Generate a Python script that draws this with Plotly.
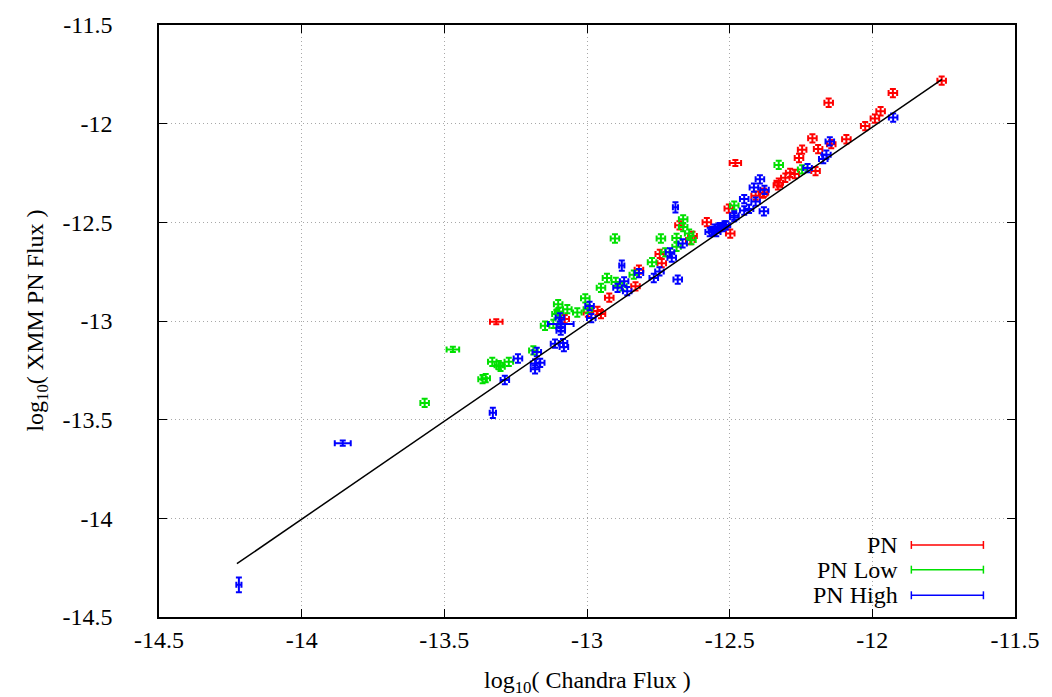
import plotly.graph_objects as go

# ---------------- data ----------------
pn_x = [-11.757, -11.928, -12.153, -11.971, -11.991, -12.025, -12.210, -12.091, -12.246, -12.190,
        -12.144, -12.257, -12.199, -12.288, -12.305, -12.328, -12.331, -12.272, -12.409, -12.380,
        -12.480, -12.383, -12.503, -12.580, -12.498, -12.676, -12.638, -12.630, -12.738, -12.745,
        -12.818, -12.830, -12.922, -12.997, -12.963, -12.951, -13.078, -13.318]
pn_y = [-11.782, -11.845, -11.894, -11.937, -11.974, -12.012, -12.074, -12.079, -12.132, -12.129,
        -12.104, -12.174, -12.240, -12.249, -12.274, -12.299, -12.312, -12.255, -12.365, -12.349,
        -12.199, -12.354, -12.430, -12.499, -12.557, -12.515, -12.590, -12.569, -12.707, -12.660,
        -12.740, -12.824, -12.882, -12.957, -12.949, -12.965, -12.990, -13.004]
pn_xerr = [0.015, 0.015, 0.015, 0.015, 0.015, 0.015, 0.015, 0.015, 0.015, 0.015,
           0.015, 0.015, 0.015, 0.015, 0.015, 0.015, 0.015, 0.015, 0.015, 0.015,
           0.020, 0.015, 0.015, 0.015, 0.015, 0.015, 0.015, 0.015, 0.015, 0.015,
           0.015, 0.015, 0.015, 0.015, 0.015, 0.015, 0.015, 0.022]
pn_yerr = [0.021, 0.021, 0.021, 0.021, 0.021, 0.021, 0.021, 0.021, 0.021, 0.021,
           0.021, 0.021, 0.021, 0.021, 0.021, 0.021, 0.021, 0.021, 0.021, 0.021,
           0.015, 0.021, 0.021, 0.021, 0.021, 0.021, 0.021, 0.021, 0.021, 0.021,
           0.021, 0.021, 0.021, 0.021, 0.021, 0.021, 0.021, 0.013]

low_x = [-12.328, -12.246, -12.484, -12.663, -12.902, -12.741, -12.686, -12.642, -12.634, -12.686,
         -12.726, -12.772, -12.836, -12.930, -12.899, -12.951, -13.006, -13.034, -13.069, -13.101,
         -13.098, -13.107, -13.147, -13.118, -13.188, -13.274, -13.309, -13.332, -13.303, -13.355,
         -13.366, -13.470, -13.569, -12.663, -12.876, -12.997]
low_y = [-12.209, -12.232, -12.415, -12.485, -12.582, -12.582, -12.579, -12.557, -12.590, -12.624,
         -12.652, -12.702, -12.765, -12.782, -12.802, -12.832, -12.885, -12.957, -12.940, -12.915,
         -12.952, -12.965, -13.024, -13.015, -13.149, -13.207, -13.224, -13.207, -13.232, -13.290,
         -13.295, -13.144, -13.415, -12.524, -12.824, -12.940]
low_xerr = [0.015, 0.015, 0.015, 0.015, 0.015, 0.015, 0.015, 0.015, 0.015, 0.015,
            0.015, 0.015, 0.015, 0.015, 0.015, 0.015, 0.015, 0.015, 0.015, 0.015,
            0.015, 0.015, 0.015, 0.015, 0.015, 0.015, 0.015, 0.015, 0.015, 0.015,
            0.015, 0.022, 0.015, 0.015, 0.015, 0.015]
low_yerr = [0.021, 0.021, 0.021, 0.021, 0.021, 0.021, 0.021, 0.021, 0.021, 0.021,
            0.021, 0.021, 0.021, 0.021, 0.021, 0.021, 0.021, 0.021, 0.021, 0.021,
            0.021, 0.021, 0.021, 0.021, 0.021, 0.021, 0.021, 0.021, 0.021, 0.021,
            0.021, 0.013, 0.021, 0.021, 0.021, 0.021]

high_x = [-11.927, -12.149, -12.161, -12.172, -12.227, -12.394, -12.415, -12.378, -12.409, -12.432,
          -12.449, -12.380, -12.449, -12.484, -12.690, -12.570, -12.559, -12.553, -12.542, -12.536,
          -12.524, -12.518, -12.513, -12.547, -12.484, -12.665, -12.709, -12.703, -12.878, -12.818,
          -12.746, -12.766, -12.682, -12.870, -12.893, -12.859, -12.991, -12.985, -13.095, -13.092,
          -13.092, -13.092, -13.112, -13.084, -13.081, -13.176, -13.242, -13.182, -13.182, -13.164,
          -13.288, -13.330, -13.856, -14.220]
high_y = [-11.969, -12.090, -12.157, -12.179, -12.225, -12.282, -12.324, -12.335, -12.395, -12.432,
          -12.440, -12.444, -12.382, -12.474, -12.424, -12.549, -12.545, -12.532, -12.532, -12.524,
          -12.524, -12.515, -12.515, -12.549, -12.465, -12.607, -12.652, -12.679, -12.719, -12.757,
          -12.749, -12.782, -12.790, -12.799, -12.832, -12.849, -12.924, -12.985, -12.982, -13.015,
          -13.032, -13.049, -13.115, -13.112, -13.132, -13.157, -13.190, -13.215, -13.245, -13.212,
          -13.299, -13.465, -13.619, -14.337]
high_xerr = [0.015, 0.015, 0.015, 0.015, 0.015, 0.015, 0.015, 0.015, 0.015, 0.015,
             0.015, 0.015, 0.015, 0.015, 0.009, 0.015, 0.015, 0.015, 0.015, 0.015,
             0.015, 0.015, 0.015, 0.015, 0.015, 0.015, 0.015, 0.015, 0.009, 0.015,
             0.015, 0.015, 0.015, 0.015, 0.015, 0.015, 0.015, 0.015, 0.015, 0.045,
             0.015, 0.015, 0.015, 0.015, 0.015, 0.015, 0.015, 0.015, 0.015, 0.015,
             0.015, 0.011, 0.028, 0.009]
high_yerr = [0.021, 0.021, 0.021, 0.021, 0.021, 0.021, 0.021, 0.021, 0.021, 0.021,
             0.021, 0.021, 0.021, 0.021, 0.026, 0.021, 0.021, 0.021, 0.021, 0.021,
             0.021, 0.021, 0.021, 0.021, 0.021, 0.021, 0.021, 0.021, 0.026, 0.021,
             0.021, 0.021, 0.021, 0.021, 0.021, 0.021, 0.021, 0.021, 0.021, 0.021,
             0.021, 0.021, 0.021, 0.021, 0.021, 0.021, 0.021, 0.021, 0.021, 0.021,
             0.021, 0.026, 0.013, 0.037]

line_x = [-14.227, -11.756]
line_y = [-14.230, -11.775]

tick_vals = [-14.5, -14.0, -13.5, -13.0, -12.5, -12.0, -11.5]
tick_text = ["-14.5", "-14", "-13.5", "-13", "-12.5", "-12", "-11.5"]

series_names = ["PN", "PN Low", "PN High"]
series_colors = ["#ff0000", "#00e000", "#0000ff"]

# ---------------- figure ----------------
FONT = "Liberation Serif"
FS = 24
fig = go.Figure()

for xs, ys, xe, ye, name, col in [
    (pn_x, pn_y, pn_xerr, pn_yerr, series_names[0], series_colors[0]),
    (low_x, low_y, low_xerr, low_yerr, series_names[1], series_colors[1]),
    (high_x, high_y, high_xerr, high_yerr, series_names[2], series_colors[2]),
]:
    fig.add_trace(go.Scatter(
        x=xs, y=ys, mode="markers", name=name, showlegend=False,
        marker=dict(color=col, size=3, opacity=0),
        error_x=dict(type="data", array=xe, color=col, thickness=2, width=3),
        error_y=dict(type="data", array=ye, color=col, thickness=2, width=3),
    ))

fig.add_trace(go.Scatter(x=line_x, y=line_y, mode="lines", showlegend=False,
                         line=dict(color="black", width=1.5)))

axis_common = dict(
    range=[-14.5, -11.5], tickvals=tick_vals, ticktext=tick_text,
    showgrid=True, gridcolor="#a8a8a8", griddash="1px,3px", gridwidth=1.2,
    zeroline=False, showline=True, linecolor="black", linewidth=1.5,
    mirror="ticks", ticks="inside", ticklen=8, tickcolor="black", tickwidth=1,
    tickfont=dict(family=FONT, size=FS, color="black"),
)
fig.update_xaxes(**axis_common, ticklabelstandoff=0)
fig.update_yaxes(**axis_common, ticklabelstandoff=40)

# legend (key) drawn manually to mimic error-bar samples
shapes = [dict(type="rect", xref="paper", yref="paper", x0=0.71, x1=0.981, y0=0.012, y1=0.15,
               fillcolor="white", line=dict(width=0), layer="between")]
annotations = []
key_y = [0.1217, 0.08, 0.0367]
for yk, name, col in zip(key_y, series_names, series_colors):
    shapes.append(dict(type="line", xref="paper", yref="paper", x0=0.8789, x1=0.9631, y0=yk, y1=yk,
                       line=dict(color=col, width=1.5)))
    for xc in (0.8789, 0.9631):
        shapes.append(dict(type="line", xref="paper", yref="paper", x0=xc, x1=xc,
                           y0=yk - 0.0067, y1=yk + 0.0067, line=dict(color=col, width=1.5)))
    annotations.append(dict(xref="paper", yref="paper", x=0.866, y=yk, text=name, showarrow=False,
                            xanchor="right", yanchor="middle",
                            font=dict(family=FONT, size=FS, color="black")))

annotations.append(dict(xref="paper", yref="paper", x=0.5, y=-0.11, showarrow=False,
                        text="log<sub>10</sub>( Chandra Flux )", xanchor="center", yanchor="middle",
                        font=dict(family=FONT, size=FS, color="black")))
annotations.append(dict(xref="paper", yref="paper", x=-0.143, y=0.5, showarrow=False, textangle=-90,
                        text="log<sub>10</sub>( XMM PN Flux )", xanchor="center", yanchor="middle",
                        font=dict(family=FONT, size=FS, color="black")))

fig.update_layout(
    width=1052, height=697,
    margin=dict(l=159, r=26, t=17, b=80),
    paper_bgcolor="white", plot_bgcolor="white",
    shapes=shapes, annotations=annotations,
    showlegend=False,
)

fig.write_html("out.html")
